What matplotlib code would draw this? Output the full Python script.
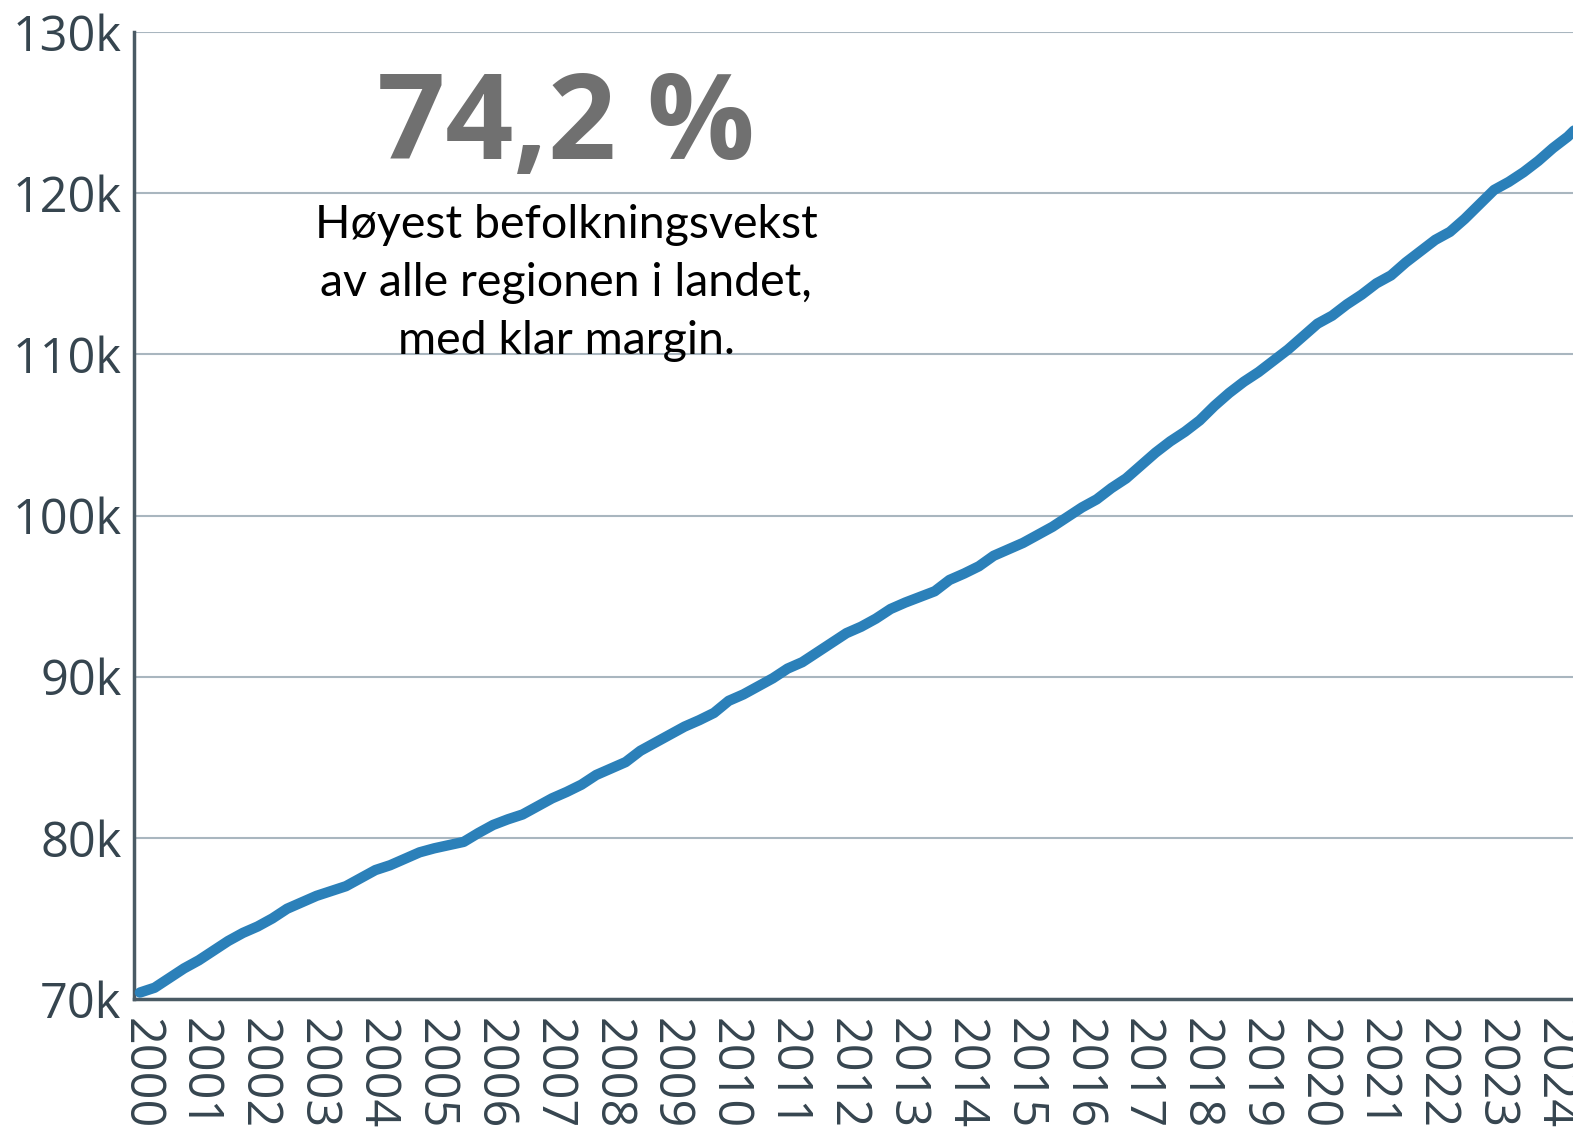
import numpy as np
import matplotlib.pyplot as plt

# kvartalsvis folketall (tusen), 2000K1 -> 2024K3
years = list(range(2000, 2025))
pop_k = [
    70.4, 70.7, 71.3, 71.9,
    72.4, 73.0, 73.6, 74.1,
    74.5, 75.0, 75.6, 76.0,
    76.4, 76.7, 77.0, 77.5,
    78.0, 78.3, 78.7, 79.1,
    79.35, 79.55, 79.75, 80.3,
    80.8, 81.15, 81.45, 81.95,
    82.45, 82.85, 83.3, 83.9,
    84.3, 84.7, 85.4, 85.9,
    86.4, 86.9, 87.3, 87.75,
    88.5, 88.9, 89.4, 89.9,
    90.5, 90.9, 91.5, 92.1,
    92.7, 93.1, 93.6, 94.2,
    94.6, 94.95, 95.3, 96.0,
    96.4, 96.85, 97.5, 97.9,
    98.3, 98.8, 99.3, 99.9,
    100.5, 101.0, 101.7, 102.3,
    103.1, 103.9, 104.6, 105.2,
    105.9, 106.8, 107.6, 108.3,
    108.9, 109.6, 110.3, 111.1,
    111.9, 112.4, 113.1, 113.7,
    114.4, 114.9, 115.7, 116.4,
    117.1, 117.6, 118.4, 119.3,
    120.2, 120.7, 121.3, 122.0,
    122.8, 123.5, 124.4,
]
t = 2000 + np.arange(len(pop_k)) / 4
y_ticks = [70, 80, 90, 100, 110, 120, 130]
y_labels = [f'{v}k' for v in y_ticks]

big_txt = '74,2 %'
sub_txt = 'Høyest befolkningsvekst\nav alle regionen i landet,\nmed klar margin.'

plt.rcParams['font.family'] = ['Open Sans', 'DejaVu Sans']
txtcol = '#36454f'

fig = plt.figure(figsize=(15.73, 11.27), dpi=100)
ax = fig.add_axes([134/1573, 1 - 999/1127, 1 - 134/1573, (999 - 32)/1127])

ax.plot(t, pop_k, color='#2b80b9', lw=7.5, solid_capstyle='round', solid_joinstyle='round', zorder=3)

ax.set_ylim(70, 130)
ax.set_xlim(1999.9, 2024.34)
ax.set_yticks(y_ticks)
ax.set_yticklabels(y_labels)
ax.set_xticks(years)
ax.set_xticklabels([str(y) for y in years], rotation=-90, va='top', ha='center')
ax.tick_params(length=0, labelsize=35, labelcolor=txtcol)
ax.tick_params(axis='y', pad=9)
ax.tick_params(axis='x', pad=14)

ax.grid(axis='y', color='#a9b6bf', lw=1.5)
ax.set_axisbelow(True)
for s in ['top', 'right']:
    ax.spines[s].set_visible(False)
for s in ['left', 'bottom']:
    ax.spines[s].set_color('#4a5a64')
    ax.spines[s].set_linewidth(2.5)

fig.text(566/1573, 1 - 128/1127, big_txt, fontsize=86, fontweight='bold', color='#707070',
         ha='center', va='center')
fig.text(566/1573, 1 - 283/1127, sub_txt, fontsize=33.5, color='black',
         ha='center', va='center', linespacing=1.48, family=['Lato', 'DejaVu Sans'])

plt.savefig('out.png', dpi=100)
